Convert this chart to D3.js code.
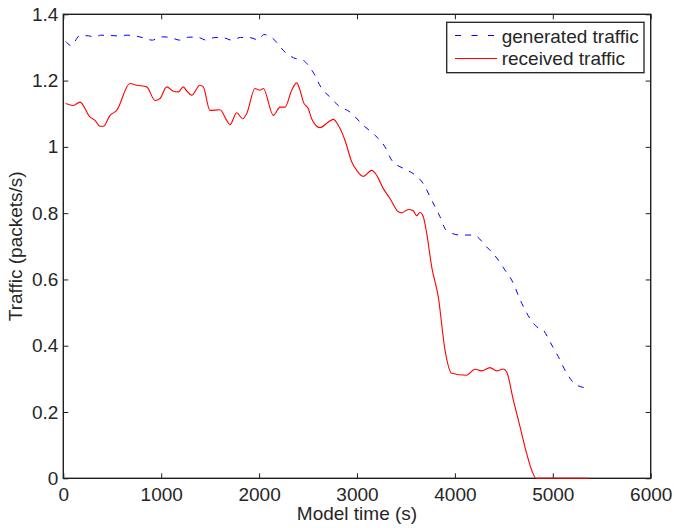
<!DOCTYPE html>
<html>
<head>
<meta charset="utf-8">
<script src="https://cdn.jsdelivr.net/npm/d3@7"></script>
<style>
  html, body { margin: 0; padding: 0; background: #fff; }
  svg { display: block; }
  text { font-family: "Liberation Sans", Arial, Helvetica, sans-serif; fill: #262626; }
</style>
</head>
<body>
<svg id="chart" width="674" height="528"></svg>
<script>
// ---- data ----
const genTime  = [25, 80, 170, 260, 330, 380, 470, 560, 650, 750, 830, 910, 990, 1080, 1190, 1280, 1370, 1460, 1550, 1640, 1720, 1810, 1900, 1990, 2050, 2140, 2265, 2350, 2450, 2550, 2640, 2724, 2809, 2929, 3064, 3184, 3286, 3354, 3473, 3575, 3677, 3763, 3848, 3910, 4052, 4188, 4325, 4427, 4512, 4580, 4683, 4767, 4836, 4903, 4971, 5056, 5142, 5244, 5385];
const genValue = [1.318, 1.306, 1.336, 1.335, 1.331, 1.337, 1.336, 1.335, 1.337, 1.334, 1.328, 1.322, 1.332, 1.331, 1.322, 1.331, 1.331, 1.322, 1.330, 1.329, 1.322, 1.330, 1.330, 1.323, 1.339, 1.327, 1.286, 1.269, 1.261, 1.226, 1.176, 1.150, 1.125, 1.105, 1.065, 1.035, 1.000, 0.960, 0.935, 0.919, 0.889, 0.839, 0.789, 0.749, 0.734, 0.734, 0.698, 0.665, 0.628, 0.598, 0.528, 0.482, 0.457, 0.447, 0.412, 0.367, 0.317, 0.281, 0.271];

const recTime  = [25, 102, 170, 273, 324, 375, 409, 477, 545, 681, 750, 852, 937, 988, 1056, 1124, 1175, 1226, 1260, 1311, 1396, 1430, 1498, 1601, 1669, 1703, 1771, 1832, 1873, 1958, 2009, 2043, 2145, 2214, 2265, 2333, 2384, 2418, 2452, 2503, 2537, 2622, 2707, 2758, 2809, 2877, 2946, 2997, 3064, 3150, 3201, 3269, 3337, 3422, 3456, 3524, 3575, 3610, 3643, 3677, 3712, 3763, 3830, 3899, 3967, 4120, 4205, 4273, 4358, 4427, 4494, 4529, 4597, 4665, 4733, 4784, 4828, 5373];
const recValue = [1.131, 1.125, 1.135, 1.090, 1.080, 1.062, 1.062, 1.095, 1.110, 1.191, 1.186, 1.181, 1.140, 1.146, 1.181, 1.168, 1.166, 1.181, 1.169, 1.156, 1.186, 1.181, 1.110, 1.112, 1.080, 1.067, 1.103, 1.085, 1.100, 1.176, 1.171, 1.176, 1.095, 1.120, 1.120, 1.171, 1.193, 1.171, 1.135, 1.115, 1.085, 1.058, 1.075, 1.083, 1.065, 1.020, 0.955, 0.929, 0.911, 0.929, 0.914, 0.874, 0.844, 0.804, 0.801, 0.811, 0.807, 0.792, 0.802, 0.789, 0.739, 0.638, 0.548, 0.387, 0.317, 0.311, 0.329, 0.324, 0.334, 0.324, 0.330, 0.321, 0.236, 0.156, 0.075, 0.025, 0, 0];

const xTicks = [0, 1000, 2000, 3000, 4000, 5000, 6000];
const yTicks = [0, 0.2, 0.4, 0.6, 0.8, 1, 1.2, 1.4];
const seriesNames = ["generated traffic", "received traffic"];
const xLabel = "Model time (s)";
const yLabel = "Traffic (packets/s)";

// ---- layout ----
const L = 63.3, R = 650.7, T = 14.3, B = 478.3;
const axisColor = "#1f1f1f";
const fontSize = 19;

const svg = d3.select("#chart");
const x = d3.scaleLinear().domain([0, 6000]).range([L, R]);
const y = d3.scaleLinear().domain([0, 1.4]).range([B, T]);

// axes with inward ticks
const tickLen = 5;
const xAxisB = d3.axisBottom(x).tickValues(xTicks).tickSize(-tickLen).tickPadding(9).tickFormat(d3.format("d"));
const xAxisT = d3.axisTop(x).tickValues(xTicks).tickSize(-tickLen).tickFormat("");
const yAxisL = d3.axisLeft(y).tickValues(yTicks).tickSize(-tickLen).tickPadding(5).tickFormat(d => d3.format("")(+d.toFixed(1)));
const yAxisR = d3.axisRight(y).tickValues(yTicks).tickSize(-tickLen).tickFormat("");

function styleAxis(g) {
  g.select(".domain").remove();
  g.selectAll(".tick line").attr("stroke", axisColor).attr("stroke-width", 1);
  g.selectAll(".tick text").attr("fill", "#262626")
    .style("font-size", fontSize + "px")
    .style("font-family", '"Liberation Sans", Arial, sans-serif');
}

svg.append("g").attr("transform", `translate(0,${B})`).call(xAxisB).call(styleAxis);
svg.append("g").attr("transform", `translate(0,${T})`).call(xAxisT).call(styleAxis);
svg.append("g").attr("transform", `translate(${L},0)`).call(yAxisL).call(styleAxis);
svg.append("g").attr("transform", `translate(${R},0)`).call(yAxisR).call(styleAxis);

// box
svg.append("rect")
  .attr("x", L).attr("y", T).attr("width", R - L).attr("height", B - T)
  .attr("fill", "none").attr("stroke", axisColor).attr("stroke-width", 1.4);

// lines (drawn over the box)
const genData = genTime.map((t, i) => [t, genValue[i]]);
const recData = recTime.map((t, i) => [t, recValue[i]]);
const line = d3.line().x(d => x(d[0])).y(d => y(d[1])).curve(d3.curveMonotoneX);

svg.append("path").datum(genData)
  .attr("d", line).attr("fill", "none")
  .attr("stroke", "#0000ff").attr("stroke-width", 1)
  .attr("stroke-dasharray", "6,7");

svg.append("path").datum(recData)
  .attr("d", line).attr("fill", "none")
  .attr("stroke", "#ff0000").attr("stroke-width", 1.1);

// axis labels
svg.append("text")
  .attr("x", (L + R) / 2).attr("y", 520)
  .attr("text-anchor", "middle")
  .style("font-size", fontSize + "px")
  .text(xLabel);

svg.append("text")
  .attr("transform", `translate(22,${(T + B) / 2}) rotate(-90)`)
  .attr("text-anchor", "middle")
  .style("font-size", fontSize + "px")
  .text(yLabel);

// legend
const lg = svg.append("g");
lg.append("rect")
  .attr("x", 446.7).attr("y", 22.3).attr("width", 644 - 446.7).attr("height", 72.7 - 22.3)
  .attr("fill", "#fff").attr("stroke", axisColor).attr("stroke-width", 1.3);
lg.append("line").attr("x1", 455).attr("x2", 497).attr("y1", 35.5).attr("y2", 35.5)
  .attr("stroke", "#0000ff").attr("stroke-width", 1).attr("stroke-dasharray", "6,10.5");
lg.append("line").attr("x1", 455).attr("x2", 497).attr("y1", 58.5).attr("y2", 58.5)
  .attr("stroke", "#ff0000").attr("stroke-width", 1.1);
lg.append("text").attr("x", 501.7).attr("y", 42.5).style("font-size", fontSize + "px").text(seriesNames[0]);
lg.append("text").attr("x", 501.7).attr("y", 65).style("font-size", fontSize + "px").text(seriesNames[1]);
</script>
</body>
</html>
